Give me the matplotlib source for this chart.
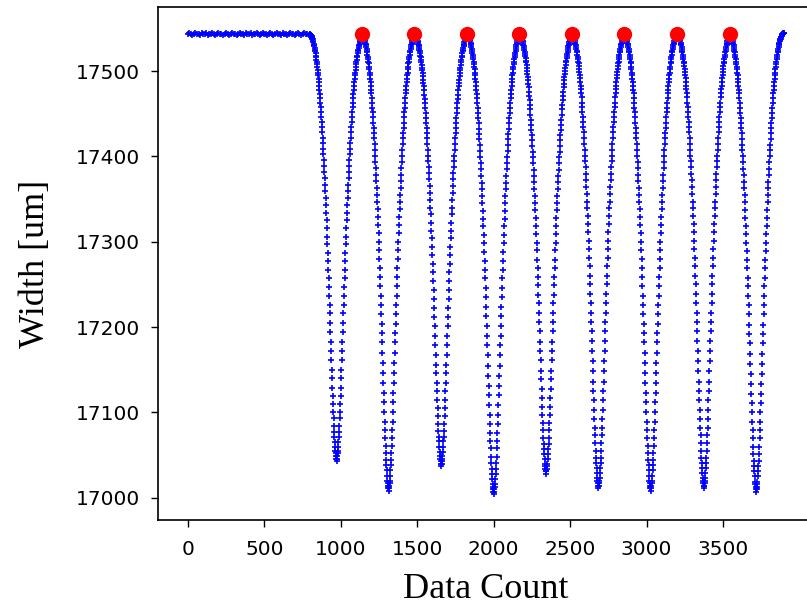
import numpy as np
import matplotlib
matplotlib.use("Agg")
import matplotlib.pyplot as plt

# Flat section before the oscillation starts (sampled every 10 counts)
flat_width = [
    17543, 17544, 17543, 17542, 17543, 17544, 17543, 17543, 17542, 17544,
    17543, 17543, 17544, 17542, 17543, 17543, 17544, 17543, 17542, 17543,
    17544, 17543, 17543, 17542, 17543, 17544, 17543, 17542, 17543, 17544,
    17543, 17543, 17542, 17543, 17544, 17543, 17543, 17542, 17544, 17543,
    17543, 17544, 17542, 17543, 17543, 17544, 17543, 17542, 17543, 17544,
    17543, 17543, 17542, 17543, 17544, 17543, 17542, 17543, 17544, 17543,
    17543, 17542, 17544, 17543, 17543, 17542, 17543, 17544, 17543, 17543,
    17542, 17543, 17544, 17543, 17542, 17543, 17544, 17543, 17543, 17542,
    17543,
]
flat_count = np.arange(0, 801, 10)

# Oscillating section, sampled every 2 counts from count 801 to 3899
swing_width = [
    # down 1
    17543, 17542, 17542, 17541, 17541, 17540, 17539, 17538, 17537, 17535,
    17534, 17532, 17531, 17529, 17527, 17525, 17523, 17521, 17518, 17516,
    17513, 17511, 17508, 17505, 17501, 17498, 17495, 17491, 17487, 17482,
    17478, 17473, 17468, 17463, 17458, 17452, 17446, 17440, 17435, 17429,
    17422, 17416, 17409, 17403, 17396, 17389, 17382, 17375, 17367, 17359,
    17351, 17343, 17334, 17325, 17316, 17306, 17297, 17287, 17277, 17267,
    17257, 17247, 17237, 17226, 17216, 17205, 17194, 17183, 17172, 17161,
    17150, 17140, 17129, 17119, 17110, 17101, 17093, 17084, 17077, 17071,
    17065, 17060, 17055, 17052, 17049, 17046, 17043,
    # up 1
    17046, 17049, 17052, 17055, 17060, 17065, 17071, 17077, 17084, 17093,
    17101, 17110, 17119, 17129, 17140, 17150, 17161, 17172, 17183, 17194,
    17205, 17216, 17226, 17237, 17247, 17257, 17267, 17277, 17287, 17297,
    17306, 17316, 17325, 17334, 17343, 17351, 17359, 17367, 17375, 17382,
    17389, 17396, 17403, 17409, 17416, 17422, 17429, 17435, 17440, 17446,
    17452, 17458, 17463, 17468, 17473, 17478, 17482, 17487, 17491, 17495,
    17498, 17501, 17505, 17508, 17511, 17513, 17516, 17518, 17521, 17523,
    17525, 17527, 17529, 17531, 17532, 17534, 17535, 17537, 17538, 17539,
    17540, 17541, 17542, 17543,
    # down 2
    17542, 17542, 17541, 17540, 17540, 17538, 17537, 17536, 17535, 17533,
    17532, 17530, 17528, 17526, 17524, 17522, 17519, 17517, 17514, 17511,
    17509, 17505, 17502, 17498, 17495, 17491, 17487, 17483, 17478, 17474,
    17468, 17463, 17457, 17452, 17446, 17439, 17433, 17427, 17421, 17414,
    17407, 17400, 17393, 17386, 17378, 17371, 17363, 17355, 17346, 17338,
    17329, 17320, 17310, 17300, 17290, 17280, 17269, 17259, 17248, 17237,
    17226, 17215, 17204, 17193, 17182, 17170, 17158, 17146, 17134, 17123,
    17112, 17101, 17089, 17080, 17070, 17061, 17052, 17044, 17038, 17032,
    17026, 17020, 17017, 17014, 17011, 17008,
    # up 2
    17011, 17014, 17017, 17020, 17026, 17032, 17038, 17044, 17052, 17061,
    17070, 17080, 17089, 17101, 17112, 17123, 17134, 17146, 17158, 17170,
    17182, 17193, 17204, 17215, 17226, 17237, 17248, 17259, 17269, 17280,
    17290, 17300, 17310, 17320, 17329, 17338, 17346, 17355, 17363, 17371,
    17378, 17386, 17393, 17400, 17407, 17414, 17421, 17427, 17433, 17439,
    17446, 17452, 17457, 17463, 17468, 17474, 17478, 17483, 17487, 17491,
    17495, 17498, 17502, 17505, 17509, 17511, 17514, 17517, 17519, 17522,
    17524, 17526, 17528, 17530, 17532, 17533, 17535, 17536, 17537, 17538,
    17540, 17542, 17543,
    # down 3
    17543, 17543, 17543,
    17542, 17542, 17541, 17541, 17540, 17539, 17538, 17537, 17535, 17534,
    17532, 17531, 17529, 17527, 17525, 17523, 17521, 17518, 17516, 17513,
    17510, 17507, 17504, 17501, 17498, 17494, 17490, 17486, 17482, 17478,
    17472, 17467, 17462, 17457, 17451, 17445, 17439, 17433, 17427, 17421,
    17414, 17408, 17401, 17394, 17387, 17380, 17373, 17365, 17357, 17349,
    17340, 17332, 17322, 17313, 17304, 17294, 17284, 17274, 17264, 17254,
    17244, 17233, 17222, 17212, 17201, 17190, 17179, 17167, 17156, 17146,
    17135, 17125, 17114, 17105, 17096, 17087, 17078, 17071, 17066, 17060,
    17054, 17049, 17046, 17043, 17040, 17037,
    # up 3
    17040, 17043, 17046, 17049, 17054, 17060, 17066, 17071, 17078, 17087,
    17096, 17105, 17114, 17125, 17135, 17146, 17156, 17167, 17179, 17190,
    17201, 17212, 17222, 17233, 17244, 17254, 17264, 17274, 17284, 17294,
    17304, 17313, 17322, 17332, 17340, 17349, 17357, 17365, 17373, 17380,
    17387, 17394, 17401, 17408, 17414, 17421, 17427, 17433, 17439, 17445,
    17451, 17457, 17462, 17467, 17472, 17478, 17482, 17486, 17490, 17494,
    17498, 17501, 17504, 17507, 17510, 17513, 17516, 17518, 17521, 17523,
    17525, 17527, 17529, 17531, 17532, 17534, 17535, 17537, 17538, 17539,
    17540, 17541, 17541, 17542, 17543,
    # down 4
    17543,
    17542, 17542, 17541, 17540, 17539, 17538, 17537, 17536, 17535, 17533,
    17532, 17530, 17528, 17526, 17524, 17521, 17519, 17517, 17514, 17511,
    17508, 17505, 17502, 17498, 17495, 17491, 17487, 17482, 17478, 17473,
    17468, 17462, 17457, 17451, 17445, 17439, 17432, 17426, 17420, 17413,
    17406, 17399, 17392, 17385, 17377, 17369, 17362, 17354, 17345, 17336,
    17327, 17318, 17308, 17298, 17288, 17278, 17267, 17257, 17246, 17235,
    17224, 17213, 17201, 17190, 17179, 17167, 17155, 17143, 17131, 17120,
    17109, 17097, 17086, 17076, 17067, 17058, 17048, 17041, 17034, 17028,
    17022, 17016, 17013, 17010, 17007, 17004,
    # up 4
    17007, 17010, 17013, 17016, 17022, 17028, 17034, 17041, 17048, 17058,
    17067, 17076, 17086, 17097, 17109, 17120, 17131, 17143, 17155, 17167,
    17179, 17190, 17201, 17213, 17224, 17235, 17246, 17257, 17267, 17278,
    17288, 17298, 17308, 17318, 17327, 17336, 17345, 17354, 17362, 17369,
    17377, 17385, 17392, 17399, 17406, 17413, 17420, 17426, 17432, 17439,
    17445, 17451, 17457, 17462, 17468, 17473, 17478, 17482, 17487, 17491,
    17495, 17498, 17502, 17505, 17508, 17511, 17514, 17517, 17519, 17521,
    17524, 17526, 17528, 17530, 17532, 17533, 17535, 17536, 17537, 17538,
    17539, 17540, 17542, 17543,
    # down 5
    17543,
    17542, 17542, 17541, 17541, 17540, 17539, 17537, 17536, 17535, 17534,
    17532, 17530, 17529, 17527, 17525, 17522, 17520, 17518, 17515, 17512,
    17510, 17507, 17503, 17500, 17497, 17493, 17489, 17485, 17481, 17476,
    17471, 17466, 17460, 17455, 17449, 17443, 17437, 17431, 17425, 17419,
    17412, 17405, 17399, 17392, 17384, 17377, 17370, 17362, 17354, 17345,
    17337, 17328, 17318, 17309, 17299, 17290, 17279, 17269, 17259, 17249,
    17238, 17228, 17217, 17206, 17195, 17183, 17172, 17161, 17149, 17139,
    17128, 17117, 17106, 17097, 17088, 17079, 17070, 17063, 17057, 17051,
    17045, 17040, 17037, 17034, 17031, 17028,
    # up 5
    17031, 17034, 17037, 17040, 17045, 17051, 17057, 17063, 17070, 17079,
    17088, 17097, 17106, 17117, 17128, 17139, 17149, 17161, 17172, 17183,
    17195, 17206, 17217, 17228, 17238, 17249, 17259, 17269, 17279, 17290,
    17299, 17309, 17318, 17328, 17337, 17345, 17354, 17362, 17370, 17377,
    17384, 17392, 17399, 17405, 17412, 17419, 17425, 17431, 17437, 17443,
    17449, 17455, 17460, 17466, 17471, 17476, 17481, 17485, 17489, 17493,
    17497, 17500, 17503, 17507, 17510, 17512, 17515, 17518, 17520, 17522,
    17525, 17527, 17529, 17530, 17532, 17534, 17535, 17536, 17537, 17539,
    17540, 17541, 17542, 17543,
    # down 6
    17543,
    17542, 17542, 17541, 17540, 17540, 17538, 17537, 17536, 17535, 17533,
    17532, 17530, 17528, 17526, 17524, 17522, 17519, 17517, 17514, 17511,
    17509, 17506, 17502, 17499, 17495, 17492, 17487, 17483, 17479, 17474,
    17469, 17463, 17458, 17452, 17446, 17440, 17434, 17428, 17421, 17414,
    17408, 17401, 17394, 17387, 17379, 17372, 17364, 17356, 17347, 17339,
    17330, 17321, 17311, 17301, 17291, 17281, 17271, 17260, 17250, 17239,
    17228, 17217, 17206, 17195, 17184, 17172, 17160, 17148, 17136, 17125,
    17114, 17103, 17092, 17082, 17073, 17064, 17055, 17047, 17041, 17035,
    17029, 17023, 17020, 17017, 17014, 17011,
    # up 6
    17014, 17017, 17020, 17023, 17029, 17035, 17041, 17047, 17055, 17064,
    17073, 17082, 17092, 17103, 17114, 17125, 17136, 17148, 17160, 17172,
    17184, 17195, 17206, 17217, 17228, 17239, 17250, 17260, 17271, 17281,
    17291, 17301, 17311, 17321, 17330, 17339, 17347, 17356, 17364, 17372,
    17379, 17387, 17394, 17401, 17408, 17414, 17421, 17428, 17434, 17440,
    17446, 17452, 17458, 17463, 17469, 17474, 17479, 17483, 17487, 17492,
    17495, 17499, 17502, 17506, 17509, 17511, 17514, 17517, 17519, 17522,
    17524, 17526, 17528, 17530, 17532, 17533, 17535, 17536, 17537, 17538,
    17540, 17540, 17542, 17543,
    # down 7
    17543,
    17542, 17542, 17541, 17540, 17540, 17538, 17537, 17536, 17535, 17533,
    17532, 17530, 17528, 17526, 17524, 17522, 17519, 17517, 17514, 17511,
    17509, 17505, 17502, 17498, 17495, 17491, 17487, 17483, 17478, 17474,
    17468, 17463, 17457, 17452, 17446, 17439, 17433, 17427, 17421, 17414,
    17407, 17400, 17393, 17386, 17378, 17371, 17363, 17355, 17346, 17338,
    17329, 17320, 17310, 17300, 17290, 17280, 17269, 17259, 17248, 17237,
    17226, 17215, 17204, 17193, 17182, 17170, 17158, 17146, 17134, 17123,
    17112, 17101, 17089, 17080, 17070, 17061, 17052, 17044, 17038, 17032,
    17026, 17020, 17017, 17014, 17011, 17008,
    # up 7
    17011, 17014, 17017, 17020, 17026, 17032, 17038, 17044, 17052, 17061,
    17070, 17080, 17089, 17101, 17112, 17123, 17134, 17146, 17158, 17170,
    17182, 17193, 17204, 17215, 17226, 17237, 17248, 17259, 17269, 17280,
    17290, 17300, 17310, 17320, 17329, 17338, 17346, 17355, 17363, 17371,
    17378, 17386, 17393, 17400, 17407, 17414, 17421, 17427, 17433, 17439,
    17446, 17452, 17457, 17463, 17468, 17474, 17478, 17483, 17487, 17491,
    17495, 17498, 17502, 17505, 17509, 17511, 17514, 17517, 17519, 17522,
    17524, 17526, 17528, 17530, 17532, 17533, 17535, 17536, 17537, 17538,
    17540, 17540, 17541, 17542, 17542, 17543, 17543,
    # down 8
    17543,
    17542, 17542, 17541, 17540, 17540, 17538, 17537, 17536, 17535, 17533,
    17532, 17530, 17528, 17526, 17524, 17522, 17519, 17517, 17514, 17511,
    17509, 17506, 17502, 17499, 17495, 17492, 17487, 17483, 17479, 17474,
    17469, 17463, 17458, 17452, 17446, 17440, 17434, 17428, 17421, 17414,
    17408, 17401, 17394, 17387, 17379, 17372, 17364, 17356, 17347, 17339,
    17330, 17321, 17311, 17301, 17291, 17281, 17271, 17260, 17250, 17239,
    17228, 17217, 17206, 17195, 17184, 17172, 17160, 17148, 17136, 17125,
    17114, 17103, 17092, 17082, 17073, 17064, 17055, 17047, 17041, 17035,
    17029, 17023, 17020, 17017, 17014, 17011,
    # up 8
    17014, 17017, 17020, 17023, 17029, 17035, 17041, 17047, 17055, 17064,
    17073, 17082, 17092, 17103, 17114, 17125, 17136, 17148, 17160, 17172,
    17184, 17195, 17206, 17217, 17228, 17239, 17250, 17260, 17271, 17281,
    17291, 17301, 17311, 17321, 17330, 17339, 17347, 17356, 17364, 17372,
    17379, 17387, 17394, 17401, 17408, 17414, 17421, 17428, 17434, 17440,
    17446, 17452, 17458, 17463, 17469, 17474, 17479, 17483, 17487, 17492,
    17495, 17499, 17502, 17506, 17509, 17511, 17514, 17517, 17519, 17522,
    17524, 17526, 17528, 17530, 17532, 17533, 17535, 17536, 17537, 17538,
    17540, 17540, 17541, 17542, 17543,
    # down 9
    17542, 17542, 17541, 17540, 17540, 17538, 17537, 17536, 17535, 17533,
    17532, 17530, 17528, 17526, 17524, 17522, 17519, 17517, 17514, 17511,
    17508, 17505, 17502, 17498, 17495, 17491, 17487, 17482, 17478, 17474,
    17468, 17463, 17457, 17451, 17445, 17439, 17433, 17427, 17420, 17413,
    17407, 17400, 17393, 17385, 17378, 17370, 17363, 17355, 17346, 17337,
    17328, 17319, 17309, 17299, 17289, 17279, 17269, 17258, 17248, 17237,
    17226, 17215, 17203, 17192, 17181, 17169, 17157, 17145, 17133, 17122,
    17111, 17100, 17089, 17079, 17070, 17060, 17051, 17043, 17037, 17031,
    17025, 17019, 17016, 17013, 17010, 17007,
    # up 9
    17010, 17013, 17016, 17019, 17025, 17031, 17037, 17043, 17051, 17060,
    17070, 17079, 17089, 17100, 17111, 17122, 17133, 17145, 17157, 17169,
    17181, 17192, 17203, 17215, 17226, 17237, 17248, 17258, 17269, 17279,
    17289, 17299, 17309, 17319, 17328, 17337, 17346, 17355, 17363, 17370,
    17378, 17385, 17393, 17400, 17407, 17413, 17420, 17427, 17433, 17439,
    17445, 17451, 17457, 17463, 17468, 17474, 17478, 17482, 17487, 17491,
    17495, 17498, 17502, 17505, 17508, 17511, 17514, 17517, 17519, 17522,
    17524, 17526, 17528, 17530, 17532, 17533, 17535, 17536, 17537, 17538,
    17540, 17540, 17541, 17542, 17542, 17543,
    17543, 17543, 17544, 17544, 17544,
]
swing_count = 801 + 2 * np.arange(len(swing_width))

# Detected peaks of each oscillation
peak_count = [1141, 1479, 1827, 2169, 2511, 2853, 3201, 3545]
peak_width = [17543, 17543, 17543, 17543, 17543, 17543, 17543, 17543]

x_ticks = [0, 500, 1000, 1500, 2000, 2500, 3000, 3500]
y_ticks = [17000, 17100, 17200, 17300, 17400, 17500]

count = np.concatenate([flat_count, swing_count])
width = np.concatenate([flat_width, swing_width])

fig = plt.figure(figsize=(8.07, 6.06), dpi=100)
ax = fig.add_axes([158 / 807, 86 / 606, 656 / 807, 513 / 606])

ax.plot(count, width, linestyle="none", marker="+", color="b",
        markersize=4, markeredgewidth=1.2)
ax.plot(peak_count, peak_width, linestyle="none", marker="o", color="r",
        markersize=10)

ax.set_xlim(-195, 4095)
ax.set_ylim(16974, 17575)
ax.set_xticks(x_ticks)
ax.set_yticks(y_ticks)
ax.tick_params(labelsize=14.5, length=5, width=1)
ax.tick_params(axis="x", pad=9.5)
ax.tick_params(axis="y", pad=8)
for s in ax.spines.values():
    s.set_linewidth(1.2)

label_font = dict(family="Liberation Serif", size=26)
ax.set_xlabel("Data Count", fontdict=label_font, labelpad=10)
ax.set_ylabel("Width [um]", fontdict=label_font, labelpad=17)

fig.savefig("out.png", dpi=100)
